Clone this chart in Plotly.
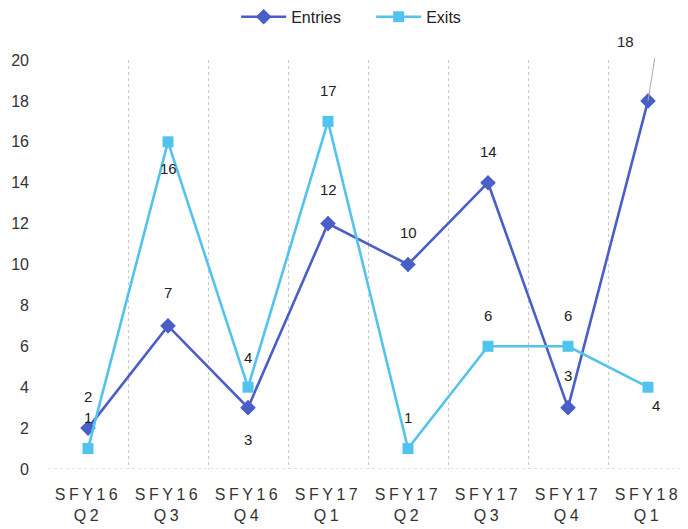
import plotly.graph_objects as go

categories = ["SFY16 Q2", "SFY16 Q3", "SFY16 Q4", "SFY17 Q1",
              "SFY17 Q2", "SFY17 Q3", "SFY17 Q4", "SFY18 Q1"]
entries = [2, 7, 3, 12, 10, 14, 3, 18]
exits = [1, 16, 4, 17, 1, 6, 6, 4]
y_ticks = [0, 2, 4, 6, 8, 10, 12, 14, 16, 18, 20]

# label placement per point: (xshift, yshift) in pixels
entries_lbl = [(0, 32), (0, 33), (0, -32), (0, 34), (0, 32), (0, 31), (0, 32), None]
exits_lbl = [(0, 31), (0, -27), (0, 30), (0, 31), (0, 31), (0, 31), (0, 31), (8, -18)]

C_ENT = "#4A5EC8"
C_EXT = "#52C3EE"
FONT = "Liberation Sans"


def tick_text(c):
    a, b = c.split(" ")
    sp = "<span style='letter-spacing:3.5px'>{}</span>"
    return sp.format(a) + "<br>" + sp.format(b)


fig = go.Figure()
fig.add_trace(go.Scatter(
    x=categories, y=entries, name="Entries", mode="lines+markers",
    line=dict(color=C_ENT, width=2.6),
    marker=dict(symbol="diamond", size=12, color=C_ENT),
))
fig.add_trace(go.Scatter(
    x=categories, y=exits, name="Exits", mode="lines+markers",
    line=dict(color=C_EXT, width=2.6),
    marker=dict(symbol="square", size=11, color=C_EXT),
))

annotations = []
for cat, v, pos in zip(categories, entries, entries_lbl):
    if pos is None:
        annotations.append(dict(x=cat, y=v, text="", showarrow=True, arrowhead=0,
                                ax=7, ay=-44, arrowcolor="#a6a6a6", arrowwidth=1,
                                standoff=0))
        annotations.append(dict(x=cat, y=v, text=str(v), showarrow=False,
                                xshift=-23, yshift=59,
                                font=dict(size=15, color="#222", family=FONT)))
    else:
        annotations.append(dict(x=cat, y=v, text=str(v), showarrow=False,
                                xshift=pos[0], yshift=pos[1],
                                font=dict(size=15, color="#222", family=FONT)))
for cat, v, pos in zip(categories, exits, exits_lbl):
    annotations.append(dict(x=cat, y=v, text=str(v), showarrow=False,
                            xshift=pos[0], yshift=pos[1],
                            font=dict(size=15, color="#222", family=FONT)))

fig.update_layout(
    width=680, height=521,
    margin=dict(l=40, r=0, t=52, b=60),
    paper_bgcolor="white", plot_bgcolor="white",
    font=dict(family=FONT, size=14, color="#333"),
    showlegend=True,
    legend=dict(orientation="h", x=0.294, xanchor="left", y=0.983, yanchor="middle",
                yref="container", font=dict(size=16, color="#222"),
                itemwidth=45, entrywidth=75, entrywidthmode="pixels"),
    annotations=annotations,
    shapes=[dict(type="line", xref="paper", yref="y", x0=0, x1=1, y0=0, y1=0,
                 line=dict(color="#bfbfbf", width=1, dash="dot"), layer="below")],
    xaxis=dict(
        type="category", range=[-0.5, 7.5], tickson="boundaries",
        tickvals=categories, ticktext=[tick_text(c) for c in categories],
        showgrid=True, gridcolor="#c8c8c8", griddash="dot", gridwidth=1,
        showline=False, zeroline=False, ticks="", automargin=False,
        ticklabelstandoff=14,
        tickfont=dict(size=16, color="#333"),
    ),
    yaxis=dict(
        range=[0, 20], tickvals=y_ticks, showgrid=False, zeroline=False,
        showline=False, ticks="", ticklabelstandoff=18, automargin=False,
        tickfont=dict(size=16, color="#333"),
    ),
)

fig.write_html("out.html")
